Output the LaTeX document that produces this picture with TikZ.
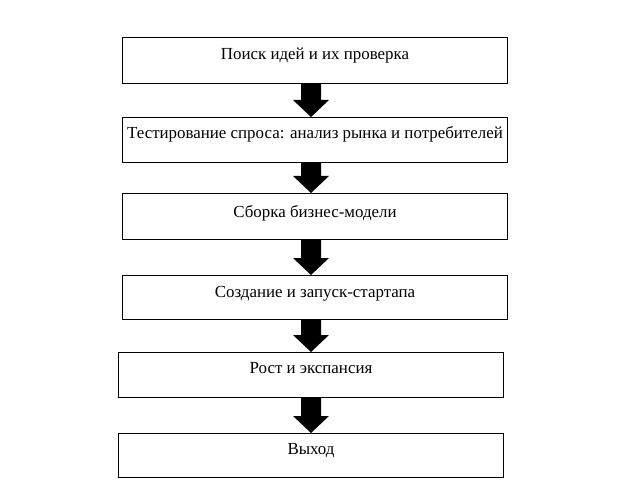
\documentclass[tikz,border=0pt]{standalone}
\usepackage{fontspec}
\setmainfont{Liberation Serif}
\usetikzlibrary{calc}
\begin{document}
\begin{tikzpicture}[x=1bp,y=-1bp,
  stepbox/.style={draw=black, line width=1bp, fill=white, inner sep=0pt,
    minimum width=384bp, anchor=north, font=\fontsize{16.9bp}{19bp}\selectfont},
]
\useasboundingbox (0,0) rectangle (624,483);
\node[stepbox, text height=22bp, text depth=24bp] (b1) at (315,37) {Поиск идей и их проверка};
\node[stepbox, text height=21bp, text depth=24bp] (b2) at (315,117) {Тестирование спроса: анализ рынка и потребителей};
\node[stepbox, text height=24bp, text depth=22bp] (b3) at (315,193) {Сборка бизнес-модели};
\node[stepbox, text height=22bp, text depth=22bp] (b4) at (315,275) {Создание и запуск-стартапа};
\node[stepbox, text height=21bp, text depth=24bp] (b5) at (311,352) {Рост и экспансия};
\node[stepbox, text height=21bp, text depth=23bp] (b6) at (311,433) {Выход};
\newcommand\blockarrow[2]{%
  \fill[black] let \p1=(#1.south), \p2=(#2.north) in
    (301bp,\y1) -- (321bp,\y1) -- (321bp,\y2+17bp) -- (329bp,\y2+17bp)
    -- (311bp,\y2) -- (293bp,\y2+17bp) -- (301bp,\y2+17bp) -- cycle;}
\blockarrow{b1}{b2}
\blockarrow{b2}{b3}
\blockarrow{b3}{b4}
\blockarrow{b4}{b5}
\blockarrow{b5}{b6}
\end{tikzpicture}
\end{document}
